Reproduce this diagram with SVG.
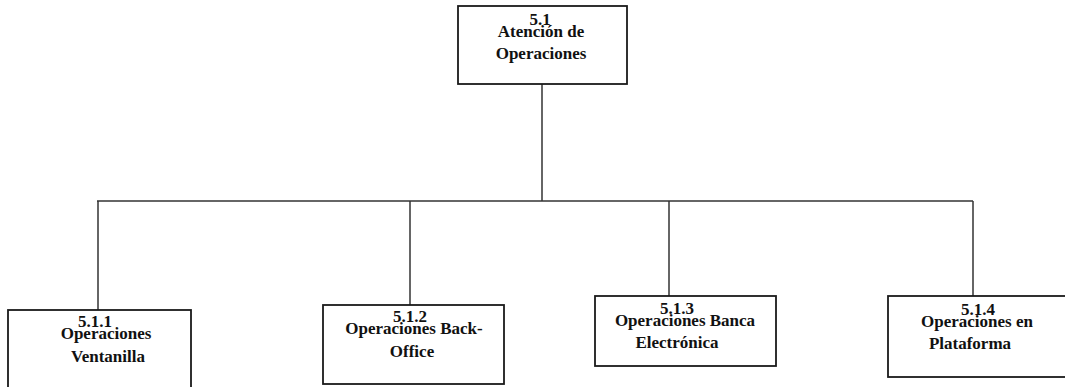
<svg xmlns="http://www.w3.org/2000/svg" width="1065" height="387" viewBox="0 0 1065 387">
  <style>
    .box { fill: #ffffff; stroke: #1a1a1a; stroke-width: 1.8; }
    .wire { fill: none; stroke: #333333; stroke-width: 1.5; }
    .num { font-family: "Liberation Serif", "Times New Roman", serif; font-size: 17px; font-weight: bold; fill: #111111; text-anchor: middle; }
    .lbl { font-family: "Liberation Serif", "Times New Roman", serif; font-size: 17px; font-weight: bold; fill: #111111; text-anchor: middle; }
  </style>
  <rect width="1065" height="387" fill="#ffffff"/>

  <!-- connectors: trunk, bus and drops -->
  <g id="connectors">
    <line class="wire" x1="542" y1="84" x2="542" y2="201"/>
    <line class="wire" x1="97" y1="201" x2="973" y2="201"/>
    <line class="wire" x1="98" y1="201" x2="98" y2="310"/>
    <line class="wire" x1="410" y1="201" x2="410" y2="305"/>
    <line class="wire" x1="669" y1="201" x2="669" y2="296"/>
    <line class="wire" x1="973" y1="201" x2="973" y2="296"/>
  </g>

  <g id="node-5-1">
    <rect class="box" x="458" y="6" width="169" height="78"/>
    <text class="lbl" x="541" y="37">Atención de</text>
    <text class="num" x="540" y="25">5.1</text>
    <text class="lbl" x="541" y="59">Operaciones</text>
  </g>

  <g id="node-5-1-1">
    <rect class="box" x="8" y="310" width="183" height="90"/>
    <text class="lbl" x="106" y="339">Operaciones</text>
    <text class="num" x="95" y="327">5.1.1</text>
    <text class="lbl" x="108" y="362">Ventanilla</text>
  </g>

  <g id="node-5-1-2">
    <rect class="box" x="323" y="305" width="181" height="79"/>
    <text class="lbl" x="414" y="334">Operaciones Back-</text>
    <text class="num" x="410" y="322">5.1.2</text>
    <text class="lbl" x="412" y="357">Office</text>
  </g>

  <g id="node-5-1-3">
    <rect class="box" x="595" y="296" width="181" height="70"/>
    <text class="lbl" x="685" y="326">Operaciones Banca</text>
    <text class="num" x="677" y="314">5.1.3</text>
    <text class="lbl" x="677" y="348">Electrónica</text>
  </g>

  <g id="node-5-1-4">
    <rect class="box" x="888" y="296" width="185" height="81"/>
    <text class="lbl" x="977" y="327">Operaciones en</text>
    <text class="num" x="978" y="315">5.1.4</text>
    <text class="lbl" x="970" y="349">Plataforma</text>
  </g>
</svg>
